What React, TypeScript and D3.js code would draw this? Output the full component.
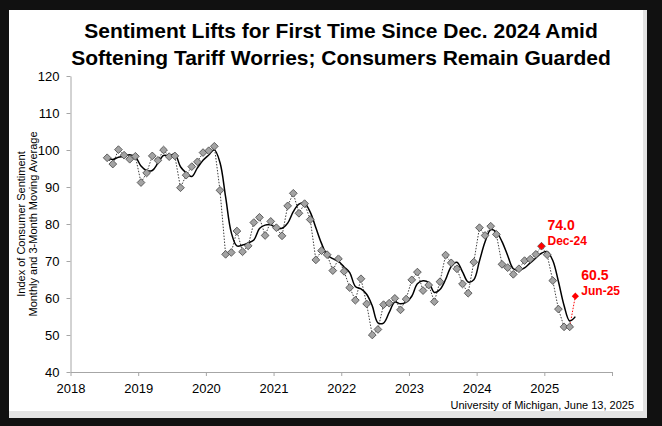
import { useEffect, useRef } from 'react';
import * as d3 from 'd3';

const titleLines = [
  'Sentiment Lifts for First Time Since Dec. 2024 Amid',
  'Softening Tariff Worries; Consumers Remain Guarded',
];
const yLabelLines = ['Index of Consumer Sentiment', 'Monthly and 3-Month Moving Average'];
const sourceNote = 'University of Michigan, June 13, 2025';

const yearTicks = [2018, 2019, 2020, 2021, 2022, 2023, 2024, 2025, 2026];
const yTicks = [40, 50, 60, 70, 80, 90, 100, 110, 120];

// May, Jun 2018 - only feed the moving average
const leadIn2018 = [98.0, 98.2];
// monthly index, Jul 2018 .. May 2025
const s2018 = [97.9, 96.2, 100.1, 98.6, 97.5, 98.3];
const s2019 = [91.2, 93.8, 98.4, 97.2, 100.0, 98.2, 98.4, 89.8, 93.2, 95.5, 96.8, 99.3];
const s2020 = [99.8, 101.0, 89.1, 71.8, 72.3, 78.1, 72.5, 74.1, 80.4, 81.8, 76.9, 80.7];
const s2021 = [79.0, 76.8, 84.9, 88.3, 82.9, 85.5, 81.2, 70.3, 72.8, 71.7, 67.4, 70.6];
const s2022 = [67.2, 62.8, 59.4, 65.2, 58.4, 50.0, 51.5, 58.2, 58.6, 59.9, 56.8, 59.7];
const s2023 = [64.9, 67.0, 62.0, 63.5, 59.0, 64.4, 71.6, 69.5, 67.9, 63.8, 61.3, 69.7];
const s2024 = [79.0, 76.9, 79.4, 77.2, 69.1, 68.2, 66.4, 67.9, 70.1, 70.5, 71.8, 74.0];
const s2025 = [71.7, 64.7, 57.0, 52.2, 52.2];
// preliminary June 2025 reading
const prelimJun25 = 60.5;

const callouts = [
  { label: 'Dec-24', year: 2024, month: 12, value: 74.0 },
  { label: 'Jun-25', year: 2025, month: 6, value: 60.5 },
];

interface Pt { t: number; v: number }

const monthPos = (year: number, month: number) => year + (month - 0.5) / 12;

const FONT = '"Liberation Sans", Arial, sans-serif';

export default function App() {
  const svgRef = useRef<SVGSVGElement>(null);

  useEffect(() => {
    if (!svgRef.current) return;
    const svg = d3.select(svgRef.current);
    svg.selectAll('*').remove();

    // frame
    svg.append('rect').attr('width', 662).attr('height', 426).attr('fill', '#111111');
    svg.append('rect').attr('x', 9).attr('y', 10).attr('width', 638).attr('height', 408).attr('fill', '#e3e3e3');
    svg.append('rect').attr('x', 9).attr('y', 10).attr('width', 634).attr('height', 401).attr('fill', '#ffffff');

    const x = d3.scaleLinear().domain([2018, 2026]).range([70.5, 612]);
    const y = d3.scaleLinear().domain([40, 120]).range([372, 76]);

    // build monthly points
    const monthly: Pt[] = [];
    const years: [number, number[], number][] = [
      [2018, s2018, 7], [2019, s2019, 1], [2020, s2020, 1], [2021, s2021, 1],
      [2022, s2022, 1], [2023, s2023, 1], [2024, s2024, 1], [2025, s2025, 1],
    ];
    years.forEach(([yr, vals, m0]) => {
      vals.forEach((v, i) => monthly.push({ t: monthPos(yr, m0 + i), v }));
    });
    const lastFinal = monthly[monthly.length - 1];
    const prelim: Pt = { t: monthPos(2025, 6), v: prelimJun25 };

    // 3-month moving average
    const all = [...leadIn2018, ...monthly.map(d => d.v), prelimJun25];
    const allT = [...monthly.map(d => d.t), prelim.t];
    const ma: Pt[] = allT.map((t, i) => ({ t, v: d3.mean(all.slice(i, i + 3)) as number }));

    // title
    titleLines.forEach((s, i) => {
      svg.append('text')
        .attr('x', 341).attr('y', 38 + i * 27)
        .attr('text-anchor', 'middle')
        .style('font-family', FONT).style('font-weight', 'bold').style('font-size', '21px')
        .text(s);
    });

    // axes
    const gy = svg.append('g').attr('transform', 'translate(70.5,0)')
      .call(d3.axisLeft(y).tickValues(yTicks).tickSize(4).tickSizeOuter(0).tickPadding(7));
    const gx = svg.append('g').attr('transform', 'translate(0,372)')
      .call(d3.axisBottom(x).tickValues(yearTicks).tickSize(4).tickSizeOuter(0).tickPadding(8)
        .tickFormat(d => (+d === 2026 ? '' : String(d))));
    [gy, gx].forEach(g => {
      g.select('.domain').attr('stroke', '#a6a6a6');
      g.selectAll('.tick line').attr('stroke', '#a6a6a6');
      g.selectAll('.tick text').attr('fill', '#000').style('font-family', FONT).style('font-size', '13px');
    });

    // y label
    yLabelLines.forEach((s, i) => {
      svg.append('text')
        .attr('transform', `translate(${25 + i * 11.5},224) rotate(-90)`)
        .attr('text-anchor', 'middle')
        .style('font-family', FONT).style('font-size', '11px')
        .text(s);
    });

    // monthly dotted line
    const line = d3.line<Pt>().x(d => x(d.t)).y(d => y(d.v));
    svg.append('path').datum(monthly)
      .attr('fill', 'none').attr('stroke', '#404040').attr('stroke-width', 1)
      .attr('stroke-dasharray', '1.5 1.5').attr('d', line);
    svg.append('path').datum([lastFinal, prelim])
      .attr('fill', 'none').attr('stroke', '#ff0000').attr('stroke-width', 1)
      .attr('stroke-dasharray', '1.5 1.5').attr('d', line);

    // moving average
    const smooth = d3.line<Pt>().x(d => x(d.t)).y(d => y(d.v)).curve(d3.curveCatmullRom.alpha(0.5));
    svg.append('path').datum(ma)
      .attr('fill', 'none').attr('stroke', '#000').attr('stroke-width', 1.5).attr('d', smooth);

    // markers
    const diamond = d3.symbol(d3.symbolSquare, 30);
    svg.selectAll('.mk').data(monthly).enter().append('path')
      .attr('class', 'mk')
      .attr('transform', d => `translate(${x(d.t)},${y(d.v)}) rotate(45)`)
      .attr('d', diamond)
      .attr('fill', '#a3a3a3').attr('stroke', '#4a4a4a').attr('stroke-width', 0.8);

    // callouts
    const redDiamond = d3.symbol(d3.symbolSquare, 26);
    callouts.forEach(c => {
      const cx = x(monthPos(c.year, c.month));
      const cy = y(c.value);
      svg.append('path')
        .attr('transform', `translate(${cx},${cy}) rotate(45)`)
        .attr('d', redDiamond).attr('fill', '#ff0000');
      svg.append('text')
        .attr('x', cx + 6).attr('y', cy - 16)
        .style('font-family', FONT).style('font-weight', 'bold').style('font-size', '14px')
        .attr('fill', '#ff0000').text(c.value.toFixed(1));
      svg.append('text')
        .attr('x', cx + 6).attr('y', cy - 1)
        .style('font-family', FONT).style('font-weight', 'bold').style('font-size', '12px')
        .attr('fill', '#ff0000').text(c.label);
    });

    // source
    svg.append('text')
      .attr('x', 634).attr('y', 409).attr('text-anchor', 'end')
      .style('font-family', FONT).style('font-size', '11px')
      .text(sourceNote);
  }, []);

  return (
    <div style={{ position: 'fixed', left: 0, top: 0 }}>
      <svg ref={svgRef} width={662} height={426} style={{ display: 'block' }} />
    </div>
  );
}
